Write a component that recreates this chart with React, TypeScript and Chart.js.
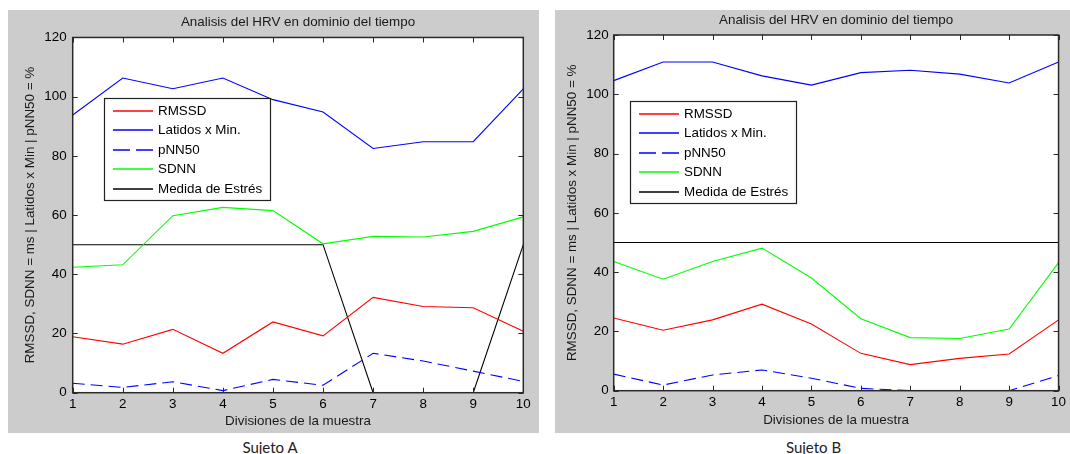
import React, { useEffect, useRef } from 'react';
import { Chart, registerables } from 'chart.js';
Chart.register(...registerables);

const divisions = ['1', '2', '3', '4', '5', '6', '7', '8', '9', '10'];
const yTicks = [0, 20, 40, 60, 80, 100, 120];
const seriesNames = ['RMSSD', 'Latidos x Min.', 'pNN50', 'SDNN', 'Medida de Estrés'];

const rmssdA = [18.9, 16.4, 21.4, 13.3, 23.9, 19.2, 32.2, 29.1, 28.7, 20.8];
const latidosA = [93.8, 106.3, 102.7, 106.3, 99.0, 94.8, 82.5, 84.8, 84.8, 102.6];
const pnn50A = [3.2, 1.8, 3.7, 0.7, 4.5, 2.5, 13.3, 10.7, 7.3, 3.8];
const sdnnA = [42.4, 43.2, 59.8, 62.6, 61.5, 50.3, 52.8, 52.6, 54.5, 59.4];
const estresA = [50, 50, 50, 50, 50, 50, 0, 0, 0, 50];

const rmssdB = [24.5, 20.4, 23.9, 29.2, 22.5, 12.6, 8.8, 10.9, 12.4, 23.9];
const latidosB = [104.6, 110.9, 110.9, 106.2, 103.1, 107.3, 108.1, 106.8, 103.8, 110.9];
const pnn50B = [5.6, 1.9, 5.3, 7.0, 4.2, 0.8, 0, 0, 0, 5.1];
const sdnnB = [43.6, 37.6, 43.6, 48.1, 38.0, 24.3, 17.9, 17.6, 20.8, 43.2];
const estresB = [50, 50, 50, 50, 50, 50, 50, 50, 50, 50];

const chartTitle = 'Analisis del HRV en dominio del tiempo';
const xTitle = 'Divisiones de la muestra';
const yTitle = 'RMSSD, SDNN = ms | Latidos x Min | pNN50 = %';

const colors = ['#ff0000', '#0000ff', '#0000ff', '#00ff00', '#000000'];
const dashes = [[], [], [12, 6], [], []];

const FONT = "'Liberation Sans', Arial, sans-serif";

const framePlugin = {
  id: 'matlabFrame',
  beforeDraw(chart: any) {
    const { ctx, chartArea: a } = chart;
    ctx.save();
    ctx.fillStyle = '#ffffff';
    ctx.fillRect(a.left, a.top, a.right - a.left, a.bottom - a.top);
    ctx.restore();
  },
  afterDatasetsDraw(chart: any, _args: any, opts: any) {
    const { ctx, chartArea: a, scales } = chart;
    const xs = scales.x;
    const ys = scales.y;
    const tl = 5;
    ctx.save();
    ctx.fillStyle = '#2a2a2a';
    for (let i = 0; i < xs.ticks.length; i++) {
      const px = Math.round(xs.getPixelForTick(i));
      ctx.fillRect(px, a.bottom - tl, 1, tl);
      ctx.fillRect(px, a.top, 1, tl);
    }
    for (const v of yTicks) {
      const py = Math.round(ys.getPixelForValue(v));
      ctx.fillRect(a.left, py, tl, 1);
      ctx.fillRect(a.right - tl, py, tl, 1);
    }
    ctx.strokeStyle = '#2a2a2a';
    ctx.lineWidth = 1.5;
    ctx.strokeRect(a.left, a.top, a.right - a.left, a.bottom - a.top);

    // legend
    const lx = Math.round(a.left + opts.x);
    const ly = Math.round(a.top + opts.y);
    const lw = 166;
    const lh = 102;
    ctx.fillStyle = '#ffffff';
    ctx.fillRect(lx, ly, lw, lh);
    ctx.lineWidth = 1.2;
    ctx.strokeStyle = '#222';
    ctx.strokeRect(lx + 0.5, ly + 0.5, lw, lh);
    ctx.font = `13.4px ${FONT}`;
    ctx.textBaseline = 'middle';
    ctx.textAlign = 'left';
    chart.data.datasets.forEach((ds: any, i: number) => {
      const ry = Math.round(ly + 12.7 + i * 19.5);
      const x0 = lx + 9;
      ctx.beginPath();
      ctx.strokeStyle = colors[i];
      ctx.lineWidth = 1.5;
      ctx.setLineDash(dashes[i].length ? [17, 6] : []);
      ctx.moveTo(x0, ry);
      ctx.lineTo(x0 + 40, ry);
      ctx.stroke();
      ctx.setLineDash([]);
      ctx.fillStyle = '#000';
      ctx.fillText(ds.label, lx + 54, ry);
    });
    ctx.restore();
  },
};

type Panel = {
  left: number;
  width: number;
  yAxisWidth: number;
  xAxisHeight: number;
  padRight: number;
  titlePadTop: number;
  titlePadBottom: number;
  yTitlePadTop: number;
  xTitlePadBottom: number;
  yTickPad: number;
  legendX: number;
  legendY: number;
  caption: string;
  captionX: number;
  series: number[][];
};

const panelA: Panel = {
  left: 8, width: 531, yAxisWidth: 64.7, xAxisHeight: 40.3, padRight: 15.7,
  titlePadTop: 4, titlePadBottom: 7.4, yTitlePadTop: 14, xTitlePadBottom: 3.3, yTickPad: 6,
  legendX: 31.3, legendY: 60.8, caption: 'Sujeto A', captionX: 270,
  series: [rmssdA, latidosA, pnn50A, sdnnA, estresA],
};
const panelB: Panel = {
  left: 555, width: 515, yAxisWidth: 58.7, xAxisHeight: 42.3, padRight: 5,
  titlePadTop: 2, titlePadBottom: 6.9, yTitlePadTop: 9, xTitlePadBottom: 5, yTickPad: 5,
  legendX: 16.6, legendY: 65.7, caption: 'Sujeto B', captionX: 813.5,
  series: [rmssdB, latidosB, pnn50B, sdnnB, estresB],
};

function HrvChart({ p }: { p: Panel }) {
  const ref = useRef<HTMLCanvasElement>(null);
  useEffect(() => {
    if (!ref.current) return;
    const chart = new Chart(ref.current, {
      type: 'line',
      data: {
        labels: divisions,
        datasets: p.series.map((d, i) => ({
          label: seriesNames[i],
          data: d,
          borderColor: colors[i],
          backgroundColor: colors[i],
          borderDash: dashes[i],
          borderWidth: 1.1,
          pointRadius: 0,
          tension: 0,
          fill: false,
        })),
      },
      options: {
        animation: false,
        responsive: false,
        devicePixelRatio: 1,
        layout: { padding: { left: 0, right: p.padRight, top: 0, bottom: 0 } },
        plugins: {
          legend: { display: false },
          tooltip: { enabled: false },
          title: {
            display: true,
            text: chartTitle,
            fullSize: false,
            color: '#1a1a1a',
            font: { family: FONT, size: 13.4, weight: 'normal', lineHeight: 1.2 },
            padding: { top: p.titlePadTop, bottom: p.titlePadBottom },
          },
          matlabFrame: { x: p.legendX, y: p.legendY },
        } as any,
        scales: {
          x: {
            type: 'category',
            offset: false,
            grid: { display: false, drawTicks: false },
            border: { display: false },
            ticks: { color: '#000', font: { family: FONT, size: 13.4 }, padding: 4, maxRotation: 0, autoSkip: false },
            title: {
              display: true, text: xTitle, color: '#1a1a1a',
              font: { family: FONT, size: 13.4, lineHeight: 1.2 },
              padding: { top: 0, bottom: p.xTitlePadBottom },
            },
            afterFit: (s: any) => { s.height = p.xAxisHeight; },
          },
          y: {
            min: 0,
            max: 120,
            grid: { display: false, drawTicks: false },
            border: { display: false },
            afterBuildTicks: (s: any) => { s.ticks = yTicks.map((v) => ({ value: v })); },
            ticks: { color: '#000', font: { family: FONT, size: 13.4 }, padding: p.yTickPad },
            title: {
              display: true, text: yTitle, color: '#1a1a1a',
              font: { family: FONT, size: 13.4, lineHeight: 1.2 },
              padding: { top: p.yTitlePadTop, bottom: 0 },
            },
            afterFit: (s: any) => { s.width = p.yAxisWidth; },
          },
        },
      } as any,
      plugins: [framePlugin],
    });
    return () => chart.destroy();
  }, [p]);
  return (
    <div style={{ position: 'absolute', left: p.left, top: 10, width: p.width, height: 423, background: '#cccccc', overflow: 'hidden' }}>
      <canvas ref={ref} width={p.width} height={423} style={{ display: 'block' }} />
    </div>
  );
}

export default function App() {
  return (
    <div style={{ position: 'absolute', left: 0, top: 0, width: 1070, height: 454, background: '#fff', overflow: 'hidden' }}>
      <HrvChart p={panelA} />
      <HrvChart p={panelB} />
      {[panelA, panelB].map((p) => (
        <div key={p.caption} style={{ position: 'absolute', left: p.captionX, top: 447, transform: 'translate(-50%, -50%)', fontFamily: 'Lato, sans-serif', fontSize: 15, color: '#222', whiteSpace: 'nowrap', lineHeight: 1 }}>
          {p.caption}
        </div>
      ))}
    </div>
  );
}
